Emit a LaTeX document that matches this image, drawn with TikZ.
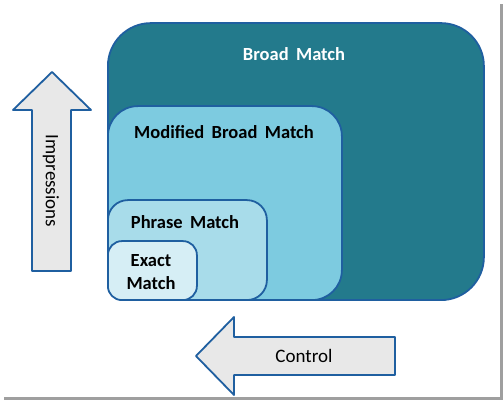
\documentclass[tikz,border=0pt]{standalone}
\usepackage{fontspec}
\setmainfont{Carlito}
\definecolor{edgeblue}{HTML}{1F5FA0}
\definecolor{broadfill}{HTML}{237A8C}
\definecolor{modfill}{HTML}{7DCBE0}
\definecolor{phrasefill}{HTML}{A8DCEA}
\definecolor{exactfill}{HTML}{D6EEF5}
\definecolor{arrowfill}{HTML}{E8E8E8}
\newcommand{\widewords}{\spaceskip=0.4em\relax}

\begin{document}
\begin{tikzpicture}[x=1pt, y=1pt, line join=round,
  box/.style={draw=edgeblue, line width=1.8pt, anchor=south west, inner sep=0pt},
  title/.style={font=\bfseries\fontsize{18.5}{23}\selectfont\widewords, inner sep=0pt, align=center},
  plain/.style={font=\fontsize{19}{22}\selectfont, inner sep=0pt},
  bigarrow/.style={draw=edgeblue, line width=1.8pt, fill=arrowfill}]
\useasboundingbox (0,0) rectangle (504,401);
\fill[gray!75] (4,1) rectangle (503,397);
\fill[white] (0,4) rectangle (500,401);
\node[box, fill=broadfill, minimum width=376pt, minimum height=277pt, rounded corners=43pt] (broad) at (107,100) {};
\node[box, fill=modfill, minimum width=234pt, minimum height=194pt, rounded corners=30pt] (modified) at (107,100) {};
\node[box, fill=phrasefill, minimum width=159pt, minimum height=100pt, rounded corners=20pt] (phrase) at (107,100) {};
\node[box, fill=exactfill, minimum width=89pt, minimum height=59pt, rounded corners=14pt] (exact) at (107,100) {};
\node[title, text=white] (broadlbl) at (294,347) {Broad Match};
\node[title] (modlbl) at (224,269) {Modified Broad Match};
\node[title] (phraselbl) at (185,179) {Phrase Match};
\node[title] (exactlbl) at (151,128.5) {Exact\\Match};
\draw[bigarrow] (52,329) -- (91,291) -- (71,291) -- (71,130) -- (32,130) -- (32,291) -- (13,291) -- cycle;
\node[plain, rotate=-90] (impr) at (51,220) {Impressions};
\draw[bigarrow] (196,45) -- (234,84) -- (234,64) -- (395,64) -- (395,26) -- (234,26) -- (234,6) -- cycle;
\node[plain] (control) at (304,45) {Control};
\end{tikzpicture}
\end{document}
